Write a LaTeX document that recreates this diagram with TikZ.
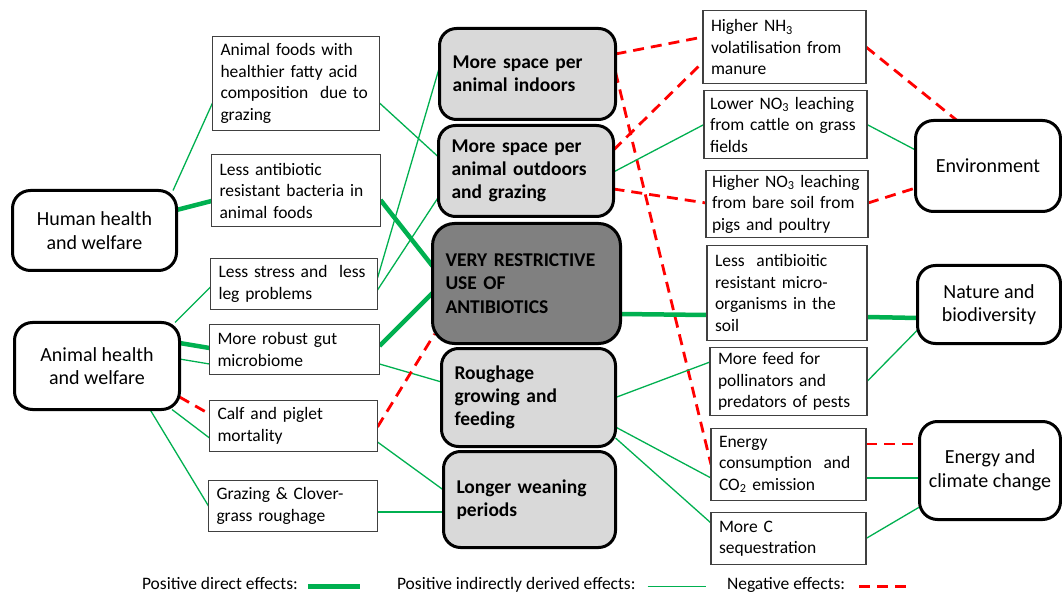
\documentclass[tikz,border=0pt]{standalone}
\usepackage{fontspec}
\setmainfont{Carlito}
\usetikzlibrary{calc,backgrounds}
\pgfdeclarelayer{back}
\pgfsetlayers{back,background,main}
\definecolor{pgreen}{RGB}{0,176,80}
\definecolor{nred}{RGB}{255,0,0}
\definecolor{lgray}{RGB}{217,217,217}
\definecolor{dgray}{RGB}{128,128,128}
\definecolor{bgray}{RGB}{64,64,64}
\tikzset{
  sbox/.style={draw=bgray, line width=1.3pt, fill=white, align=left, inner xsep=8pt, inner ysep=0pt, outer sep=0pt, font=\fontsize{17.5}{21.5}\selectfont},
  cbox/.style={draw=black, line width=3pt, rounded corners=17pt, fill=lgray, align=left, inner xsep=13pt, inner ysep=0pt, outer sep=0pt, font=\fontsize{19.5}{23.3}\selectfont\bfseries},
  obox/.style={draw=black, line width=3pt, rounded corners=18pt, fill=white, align=center, inner sep=0pt, outer sep=0pt, font=\fontsize{20}{23.5}\selectfont},
  lgtext/.style={inner sep=0pt, outer sep=0pt, font=\fontsize{17.5}{21}\selectfont},
  posd/.style={draw=pgreen, line width=4.5pt},
  posi/.style={draw=pgreen, line width=1.3pt},
  negl/.style={draw=nred, line width=2.8pt, dash pattern=on 11pt off 7pt},
}
\begin{document}
\begin{tikzpicture}[x=1pt,y=-1pt]
\begin{pgfonlayer}{back}
\fill[white] (0,0) rectangle (1062,593);
\end{pgfonlayer}
\useasboundingbox (0,0) rectangle (1062,593);

% outer nodes
\node[obox, minimum width=164pt, minimum height=80pt] (hh) at (94.5,230.5) {Human health\\and welfare};
\node[obox, minimum width=165pt, minimum height=87pt] (ah) at (97,366) {Animal health\\and welfare};
\node[obox, minimum width=145pt, minimum height=91pt] (env) at (988,166) {Environment};
\node[obox, minimum width=143pt, minimum height=78pt] (nat) at (989,304.5) {Nature and\\biodiversity};
\node[obox, minimum width=141pt, minimum height=98pt] (ecc) at (990,470.5) {Energy and\\climate change};

% left boxes
\node[sbox, text width=151pt, minimum height=94pt] (af) at (296,83.5) {Animal foods with\\healthier fatty acid\\composition\ \ due to\\grazing};
\node[sbox, text width=153pt, minimum height=72pt] (lab) at (296,190.5) {Less antibiotic\\resistant bacteria in\\animal foods};
\node[sbox, text width=151pt, minimum height=51pt] (ls) at (294,284) {Less stress and\ \ less\\leg problems};
\node[sbox, text width=154pt, minimum height=50pt] (gut) at (294.5,349.5) {More robust gut\\microbiome};
\node[sbox, text width=152pt, minimum height=51pt] (calf) at (293.5,426) {Calf and piglet\\mortality};
\node[sbox, text width=153pt, minimum height=51pt] (gc) at (293,506) {Grazing \& Clover-\\grass roughage};

% centre boxes
\node[cbox, text width=150pt, minimum height=91pt] (ind) at (527.5,74) {More space per\\animal indoors};
\node[cbox, text width=149pt, minimum height=91pt] (out) at (526,171) {More space per\\animal outdoors\\and grazing};
\node[cbox, fill=dgray, rounded corners=22pt, text width=162pt, minimum height=120pt] (vr) at (526.5,283.5) {VERY RESTRICTIVE\\USE OF\\ANTIBIOTICS};
\node[cbox, text width=148pt, minimum height=98pt] (rou) at (528.5,397.5) {Roughage\\growing and\\feeding};
\node[cbox, text width=146pt, minimum height=96pt] (lw) at (529.5,499.5) {Longer weaning\\periods};

% right boxes
\node[sbox, text width=147pt, minimum height=73pt] (nh3) at (784.5,47) {Higher NH\textsubscript{3}\\volatilisation from\\manure};
\node[sbox, inner xsep=6pt, text width=151pt, minimum height=68pt] (lno) at (785.5,124.5) {Lower NO\textsubscript{3} leaching\\from cattle on grass\\fields};
\node[sbox, inner xsep=6pt, text width=150pt, minimum height=67pt] (hno) at (787,204) {Higher NO\textsubscript{3} leaching\\from bare soil from\\pigs and poultry};
\node[sbox, text width=144pt, minimum height=95pt] (lam) at (787,293) {Less\ \ antibioitic\\resistant micro-\\organisms in the\\soil};
\node[sbox, text width=141pt, minimum height=68pt] (mf) at (788.5,381.5) {More feed for\\pollinators and\\predators of pests};
\node[sbox, text width=139pt, minimum height=72pt] (ec) at (788.5,464.5) {Energy\\consumption\ \ and\\CO\textsubscript{2} emission};
\node[sbox, text width=139pt, minimum height=52pt] (mc) at (788.5,538.5) {More C\\sequestration};

% connectors
\begin{pgfonlayer}{background}
\draw[posi] ($(hh.north)+(78.5,0)$) -- ($(af.west)+(0,19.5)$);
\draw[posd] ($(hh.east)+(0,-20.5)$) -- ($(lab.west)+(0,10.5)$);
\draw[posi] ($(af.east)+(0,19.5)$) -- ($(out.west)+(0,-14)$);
\draw[posd] ($(lab.east)+(0,9.5)$) -- ($(vr.west)+(0,-17.5)$);
\draw[posi] ($(ls.east)+(0,-6)$) -- ($(ind.west)+(0,-7)$);
\draw[posi] ($(ls.east)+(0,6)$) -- ($(out.west)+(0,26)$);
\draw[posi] ($(ah.north)+(78,0)$) -- ($(ls.west)+(0,3)$);
\draw[posd] ($(ah.east)+(0,-23)$) -- ($(gut.west)+(0,-1.5)$);
\draw[posi] ($(ah.east)+(0,-7)$) -- ($(gut.west)+(0,14.5)$);
\draw[posd] ($(gut.east)+(0,-3.5)$) -- ($(vr.west)+(0,9.5)$);
\draw[posi] ($(gut.east)+(0,14.5)$) -- ($(rou.west)+(0,-15.5)$);
\draw[negl] ($(ah.east)+(0,31)$) -- ($(calf.west)+(0,-12)$);
\draw[posi] ($(ah.south)+(75,0)$) -- ($(calf.west)+(0,12)$);
\draw[posi] ($(ah.south)+(53,0)$) -- (gc.west);
\draw[negl] ($(calf.east)+(0,1)$) -- ($(vr.west)+(2,50.5)$);
\draw[posi] ($(calf.east)+(0,16)$) -- ($(lw.west)+(0,-9.5)$);
\draw[posi] ($(gc.east)+(0,6)$) -- ($(lw.west)+(0,12.5)$);

\draw[negl] ($(ind.east)+(0,-20)$) -- ($(nh3.west)+(0,-10)$);
\draw[negl] ($(out.east)+(0,-21)$) -- ($(nh3.west)+(0,15)$);
\draw[negl] ($(ind.east)+(0,-2)$) -- (ec.west);
\draw[posi] ($(out.east)+(0,1)$) -- (lno.west);
\draw[negl] ($(out.east)+(0,18)$) -- ($(hno.west)+(0,-1)$);
\draw[posd] ($(vr.east)+(0,30.5)$) -- ($(lam.west)+(0,22)$);
\draw[posi] (rou.east) -- ($(mf.west)+(0,-19.5)$);
\draw[posi] ($(rou.east)+(0,29.5)$) -- ($(ec.west)+(0,13.5)$);
\draw[posi] ($(rou.east)+(0,40.5)$) -- ($(mc.west)+(0,-15.5)$);

\draw[negl] (nh3.east) -- ($(env.north)+(-31,0)$);
\draw[posi] (lno.east) -- ($(env.west)+(0,-16)$);
\draw[negl] ($(hno.east)+(0,-1)$) -- ($(env.west)+(0,22)$);
\draw[posd] ($(lam.east)+(0,24)$) -- ($(nat.west)+(0,13.5)$);
\draw[posi] (mf.east) -- ($(nat.west)+(0,25.5)$);
\draw[negl] ($(ec.east)+(0,-20.5)$) -- ($(ecc.west)+(0,-26.5)$);
\draw[posi] ($(ec.east)+(0,13.5)$) -- ($(ecc.west)+(0,7.5)$);
\draw[posi] (mc.east) -- ($(ecc.west)+(0,36.5)$);
\end{pgfonlayer}

% legend
\node[lgtext, anchor=base west] (lg1) at (142,589) {Positive direct effects:};
\coordinate (lg1e) at (360,586.5);
\draw[posd] ($(lg1e -| lg1.east)+(10,0)$) -- (lg1e);
\node[lgtext, anchor=base west] (lg2) at (397,589) {Positive indirectly derived effects:};
\coordinate (lg2e) at (706,586.5);
\draw[posi] ($(lg2e -| lg2.east)+(12,0)$) -- (lg2e);
\node[lgtext, anchor=base west] (lg3) at (727,589) {Negative effects:};
\coordinate (lg3e) at (912,586.5);
\draw[negl] ($(lg3e -| lg3.east)+(14,0)$) -- (lg3e);
\end{tikzpicture}
\end{document}
